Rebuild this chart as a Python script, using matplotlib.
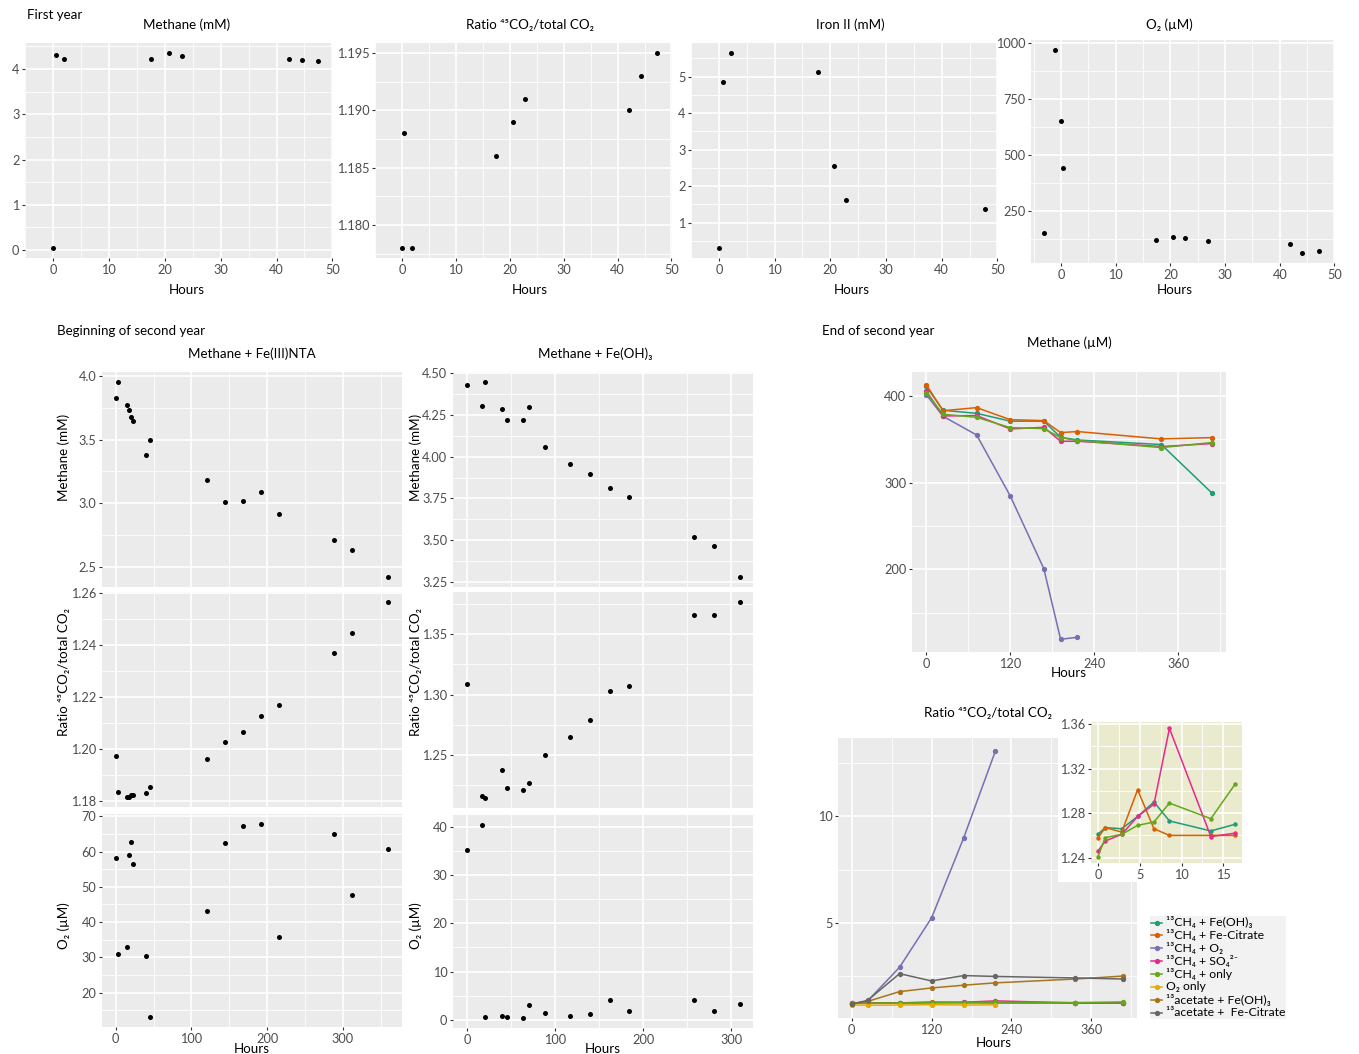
import matplotlib
matplotlib.use('Agg')
import matplotlib.pyplot as plt
from matplotlib.lines import Line2D
from matplotlib.patches import Rectangle

plt.rcParams['font.family'] = ['Lato', 'DejaVu Sans']

# ---- first year (hours, values) ----
fy_ch4_h = [0, 0.5, 2.0, 17.5, 20.7, 23.0, 42.3, 44.5, 47.5]
fy_ch4 = [0.04, 4.31, 4.23, 4.23, 4.36, 4.28, 4.22, 4.21, 4.17]
fy_ratio_h = [0, 0.4, 1.9, 17.4, 20.6, 22.9, 42.1, 44.3, 47.3]
fy_ratio = [1.178, 1.188, 1.178, 1.186, 1.189, 1.191, 1.190, 1.193, 1.195]
fy_fe_h = [0, 0.7, 2.2, 17.8, 20.7, 22.9, 47.7]
fy_fe = [0.30, 4.84, 5.65, 5.12, 2.56, 1.61, 1.37]
fy_o2_h = [-3.1, -1.1, 0, 0.4, 17.3, 20.5, 22.7, 26.9, 41.8, 44.0, 47.1]
fy_o2 = [155, 967, 650, 441, 121, 136, 131, 118, 105, 65, 73]

# ---- beginning of second year ----
nta_h = [0, 2.8, 14.5, 17.5, 20, 23.5, 39.5, 46, 120, 144, 168, 192, 216, 288, 312, 360]
nta_ch4 = [3.825, 3.956, 3.772, 3.733, 3.675, 3.65, 3.382, 3.50, 3.183, 3.01, 3.018,
           3.084, 2.914, 2.71, 2.63, 2.416]
nta_ratio = [1.1973, 1.1836, 1.1814, 1.1814, 1.1823, 1.1823, 1.1829, 1.1853, 1.1963,
             1.2027, 1.2066, 1.2128, 1.2169, 1.2369, 1.2445, 1.2567]
nta_o2 = [58.2, 30.9, 33.0, 58.95, 62.7, 56.6, 30.3, 13.0, 43.2, 62.4, 67.2, 67.9,
          35.8, 65.1, 47.6, 60.6]

feoh_h = [0, 16.8, 20, 40, 45, 64, 70.5, 88, 116.7, 139.3, 162, 184, 258, 280.7, 309.2]
feoh_ch4 = [4.432, 4.304, 4.45, 4.284, 4.221, 4.221, 4.30, 4.06, 3.958, 3.895, 3.814,
            3.76, 3.52, 3.466, 3.276]
feoh_ratio = [1.3086, 1.2162, 1.214, 1.237, 1.2223, 1.2204, 1.227, 1.2497, 1.2645,
              1.279, 1.303, 1.307, 1.3663, 1.3663, 1.377]
feoh_o2 = [35.1, 40.4, 0.7, 0.9, 0.55, 0.35, 3.1, 1.45, 0.9, 1.15, 4.15, 1.85, 4.15,
           1.9, 3.35]

# ---- end of second year ----
treat = ['¹³CH₄ + Fe(OH)₃', '¹³CH₄ + Fe-Citrate', '¹³CH₄ + O₂', '¹³CH₄ + SO₄²⁻',
         '¹³CH₄ + only', 'O₂ only', '¹³acetate + Fe(OH)₃', '¹³acetate +  Fe-Citrate']
colors = ['#1B9E77', '#D95F02', '#7570B3', '#E7298A', '#66A61E', '#E6AB02', '#A6761D', '#666666']

ch4_h = [0, 24, 72, 120, 168, 192, 216, 336, 408]
ch4_um = [
    [411, 383.5, 380, 371, 371, 352.4, 349.3, 344, 288.3],
    [413, 383, 386.6, 372.7, 371.6, 357.8, 359, 350.5, 352],
    [401.5, 376.6, 355, 284.8, 200.8, 119.4, 121.7],
    [405.8, 377, 377.4, 362, 363.9, 347.8, 347.8, 341.7, 345.1],
    [403.8, 378.9, 375.4, 363.5, 362.4, 352, 348.6, 340.5, 346.3],
]

ratio_h = [0, 24, 72, 120, 168, 216, 336, 408]
ratio_vals = [
    [1.261, 1.267, 1.266, 1.277, 1.290, 1.273, 1.264, 1.270],
    [1.258, 1.267, 1.263, 1.301, 1.266, 1.260, 1.260, 1.260],
    [1.22, 1.35, 2.93, 5.24, 8.97, 13.07],
    [1.246, 1.255, 1.261, 1.277, 1.288, 1.356, 1.259, 1.262],
    [1.241, 1.258, 1.261, 1.269, 1.272, 1.289, 1.275, 1.306],
    [1.17, 1.15, 1.16, 1.18, 1.16, 1.17],
    [1.23, 1.33, 1.79, 1.96, 2.09, 2.20, 2.38, 2.52],
    [1.20, 1.38, 2.63, 2.29, 2.54, 2.50, 2.43, 2.38],
]
inset_x = [0, 0.9, 2.85, 4.75, 6.7, 8.55, 13.5, 16.4]
inset_ids = [0, 1, 3, 4]

W, H = 1359, 1054
fig = plt.figure(figsize=(W / 100, H / 100), dpi=100)

TXT = 9.6
TCK = 9.2
RATIO = 'Ratio ⁴⁵CO₂/total CO₂'


def box(x0, y0, x1, y1):
    return fig.add_axes([x0 / W, 1 - y1 / H, (x1 - x0) / W, (y1 - y0) / H])


def put(x, y, s, **kw):
    kw.setdefault('fontsize', TXT)
    kw.setdefault('ha', 'center')
    kw.setdefault('va', 'center')
    return fig.text(x / W, 1 - y / H, s, **kw)


def pad(vals, f=0.05):
    lo, hi = min(vals), max(vals)
    d = (hi - lo) * f
    return lo - d, hi + d


def style(ax, xt, xl, yt, yl, xmin, ymin, show_x=True, bg='#EBEBEB'):
    ax.set_facecolor(bg)
    ax.set_xticks(xt)
    ax.set_xticklabels(xl)
    ax.set_yticks(yt)
    ax.set_yticklabels(yl)
    ax.set_xticks(xmin, minor=True)
    ax.set_yticks(ymin, minor=True)
    ax.grid(which='major', color='white', lw=1.2)
    ax.grid(which='minor', color='white', lw=0.6)
    ax.set_axisbelow(True)
    for s in ax.spines.values():
        s.set_visible(False)
    ax.tick_params(which='major', length=2.5, width=0.8, color='#333333',
                   labelsize=TCK, labelcolor='#4D4D4D', pad=1.5)
    ax.tick_params(which='minor', length=0)
    if not show_x:
        ax.tick_params(axis='x', which='major', length=0, labelbottom=False)


def dots(ax, x, y):
    ax.scatter(x, y, s=13, color='black', linewidths=0, zorder=3)


# ================= first year =================
put(27, 15, 'First year', ha='left')

top_x = [0, 10, 20, 30, 40, 50]
top_xl = [str(v) for v in top_x]
top_xm = [-5, 5, 15, 25, 35, 45]

ax = box(25, 43, 333, 258)
dots(ax, fy_ch4_h, fy_ch4)
ax.set_xlim(-2.4, 50.1)
ax.set_ylim(*pad(fy_ch4))
style(ax, top_x, top_xl, [0, 1, 2, 3, 4], ['0', '1', '2', '3', '4'], top_xm,
      [0.5, 1.5, 2.5, 3.5, 4.5])

ax = box(375, 43, 672, 258)
dots(ax, fy_ratio_h, fy_ratio)
ax.set_xlim(-2.4, 50.1)
ax.set_ylim(*pad(fy_ratio))
style(ax, top_x, top_xl, [1.180, 1.185, 1.190, 1.195], ['1.180', '1.185', '1.190', '1.195'],
      top_xm, [1.1775, 1.1825, 1.1875, 1.1925])

ax = box(691, 43, 998, 258)
dots(ax, fy_fe_h, fy_fe)
ax.set_xlim(-2.4, 50.1)
ax.set_ylim(*pad(fy_fe))
style(ax, top_x, top_xl, [1, 2, 3, 4, 5], ['1', '2', '3', '4', '5'], top_xm,
      [0.5, 1.5, 2.5, 3.5, 4.5, 5.5])

ax = box(1031, 40, 1335, 263)
dots(ax, fy_o2_h, fy_o2)
ax.set_xlim(-5.5, 50.1)
ax.set_ylim(*pad(fy_o2))
style(ax, top_x, top_xl, [250, 500, 750, 1000], ['250', '500', '750', '1000'], top_xm,
      [125, 375, 625, 875])

for cx, t in [(186.5, 'Methane (mM)'), (529.5, RATIO), (850.5, 'Iron II (mM)'), (1169.5, 'O₂ (µM)')]:
    put(cx, 25, t)
for cx in [186.5, 530, 851.5, 1174.5]:
    put(cx, 290, 'Hours')

# ================= beginning of second year =================
put(57, 331, 'Beginning of second year', ha='left')
put(252, 354, 'Methane + Fe(III)NTA')
put(595, 354, 'Methane + Fe(OH)₃')

mid_x = [0, 100, 200, 300]
mid_xl = ['0', '100', '200', '300']

rows_l = [(372, 587), (592, 807), (814, 1027)]
rows_r = [(372, 587), (592, 808), (815, 1028)]
nta_x = (-18, 378)
feoh_x = (-16, 324.5)

ax = box(102, rows_l[0][0], 402, rows_l[0][1])
dots(ax, nta_h, nta_ch4)
ax.set_xlim(*nta_x)
ax.set_ylim(*pad(nta_ch4))
style(ax, mid_x, mid_xl, [2.5, 3.0, 3.5, 4.0], ['2.5', '3.0', '3.5', '4.0'],
      [50, 150, 250, 350], [2.75, 3.25, 3.75], show_x=False)

ax = box(102, rows_l[1][0], 402, rows_l[1][1])
dots(ax, nta_h, nta_ratio)
ax.set_xlim(*nta_x)
ax.set_ylim(*pad(nta_ratio))
style(ax, mid_x, mid_xl, [1.18, 1.20, 1.22, 1.24, 1.26], ['1.18', '1.20', '1.22', '1.24', '1.26'],
      [50, 150, 250, 350], [1.19, 1.21, 1.23, 1.25], show_x=False)

ax = box(102, rows_l[2][0], 402, rows_l[2][1])
dots(ax, nta_h, nta_o2)
ax.set_xlim(*nta_x)
ax.set_ylim(*pad(nta_o2))
style(ax, mid_x, mid_xl, [20, 30, 40, 50, 60, 70], ['20', '30', '40', '50', '60', '70'],
      [50, 150, 250, 350], [15, 25, 35, 45, 55, 65])

ax = box(453, rows_r[0][0], 753, rows_r[0][1])
dots(ax, feoh_h, feoh_ch4)
ax.set_xlim(*feoh_x)
ax.set_ylim(*pad(feoh_ch4))
style(ax, mid_x, mid_xl, [3.25, 3.5, 3.75, 4.0, 4.25, 4.5],
      ['3.25', '3.50', '3.75', '4.00', '4.25', '4.50'],
      [50, 150, 250], [3.375, 3.625, 3.875, 4.125, 4.375], show_x=False)

ax = box(453, rows_r[1][0], 753, rows_r[1][1])
dots(ax, feoh_h, feoh_ratio)
ax.set_xlim(*feoh_x)
ax.set_ylim(*pad(feoh_ratio))
style(ax, mid_x, mid_xl, [1.25, 1.30, 1.35], ['1.25', '1.30', '1.35'],
      [50, 150, 250], [1.225, 1.275, 1.325, 1.375], show_x=False)

ax = box(453, rows_r[2][0], 753, rows_r[2][1])
dots(ax, feoh_h, feoh_o2)
ax.set_xlim(*feoh_x)
ax.set_ylim(*pad(feoh_o2))
style(ax, mid_x, mid_xl, [0, 10, 20, 30, 40], ['0', '10', '20', '30', '40'],
      [50, 150, 250], [5, 15, 25, 35])

for cx in [64, 416]:
    put(cx, 457, 'Methane (mM)', rotation=90)
    put(cx, 672, RATIO, rotation=90)
    put(cx, 926, 'O₂ (µM)', rotation=90)
for cx in [252, 603]:
    put(cx, 1043, 'Hours', va='top')

# ================= end of second year =================
put(822, 331, 'End of second year', ha='left')
put(1069, 343, 'Methane (µM)')

end_x = [0, 120, 240, 360]
end_xl = ['0', '120', '240', '360']
end_xm = [60, 180, 300, 420]

ax = box(912, 372, 1226, 652)
allv = []
for i, vals in enumerate(ch4_um):
    ax.plot(ch4_h[:len(vals)], vals, color=colors[i], lw=1.1, marker='o', ms=2.8, zorder=3)
    allv += vals
ax.set_xlim(-20.4, 428.4)
ax.set_ylim(*pad(allv))
style(ax, end_x, end_xl, [200, 300, 400], ['200', '300', '400'], end_xm, [150, 250, 350])
put(1069, 673, 'Hours')

ax = box(838, 738, 1137, 1018)
allv = []
for i, vals in enumerate(ratio_vals):
    ax.plot(ratio_h[:len(vals)], vals, color=colors[i], lw=1.1, marker='o', ms=2.8, zorder=3)
    allv += vals
ax.set_xlim(-20.4, 428.4)
ax.set_ylim(*pad(allv))
style(ax, end_x, end_xl, [5, 10], ['5', '10'], end_xm, [2.5, 7.5, 12.5])
put(988, 713, RATIO)
put(994, 1043, 'Hours')

# inset: white plot background, then panel
wb = box(1058, 700, 1272, 882)
wb.set_facecolor('white')
wb.set_xticks([])
wb.set_yticks([])
for s in wb.spines.values():
    s.set_visible(False)

ax = box(1091, 722, 1242, 863)
allv = []
for i in inset_ids:
    ax.plot(inset_x, ratio_vals[i], color=colors[i], lw=1.1, marker='o', ms=2.2, zorder=3)
    allv += ratio_vals[i]
ax.set_xlim(*pad(inset_x))
ax.set_ylim(*pad(allv))
style(ax, [0, 5, 10, 15], ['0', '5', '10', '15'], [1.24, 1.28, 1.32, 1.36],
      ['1.24', '1.28', '1.32', '1.36'], [2.5, 7.5, 12.5], [1.26, 1.30, 1.34], bg='#EAEACF')

# legend, drawn key by key
fig.add_artist(Rectangle((1150 / W, 1 - 1019 / H), 136 / W, 103 / H,
                         transform=fig.transFigure, facecolor='#F2F2F2', edgecolor='none'))
for i, lab in enumerate(treat):
    y = 1 - (922.5 + i * 12.9) / H
    fig.add_artist(Line2D([1151 / W, 1162 / W], [y, y], transform=fig.transFigure,
                          color=colors[i], lw=1.1))
    fig.add_artist(Line2D([1156.5 / W], [y], transform=fig.transFigure, color=colors[i],
                          marker='o', ms=2.8, lw=0))
    fig.text(1166 / W, y, lab, fontsize=8.8, ha='left', va='center')

fig.savefig('out.png', dpi=100)
